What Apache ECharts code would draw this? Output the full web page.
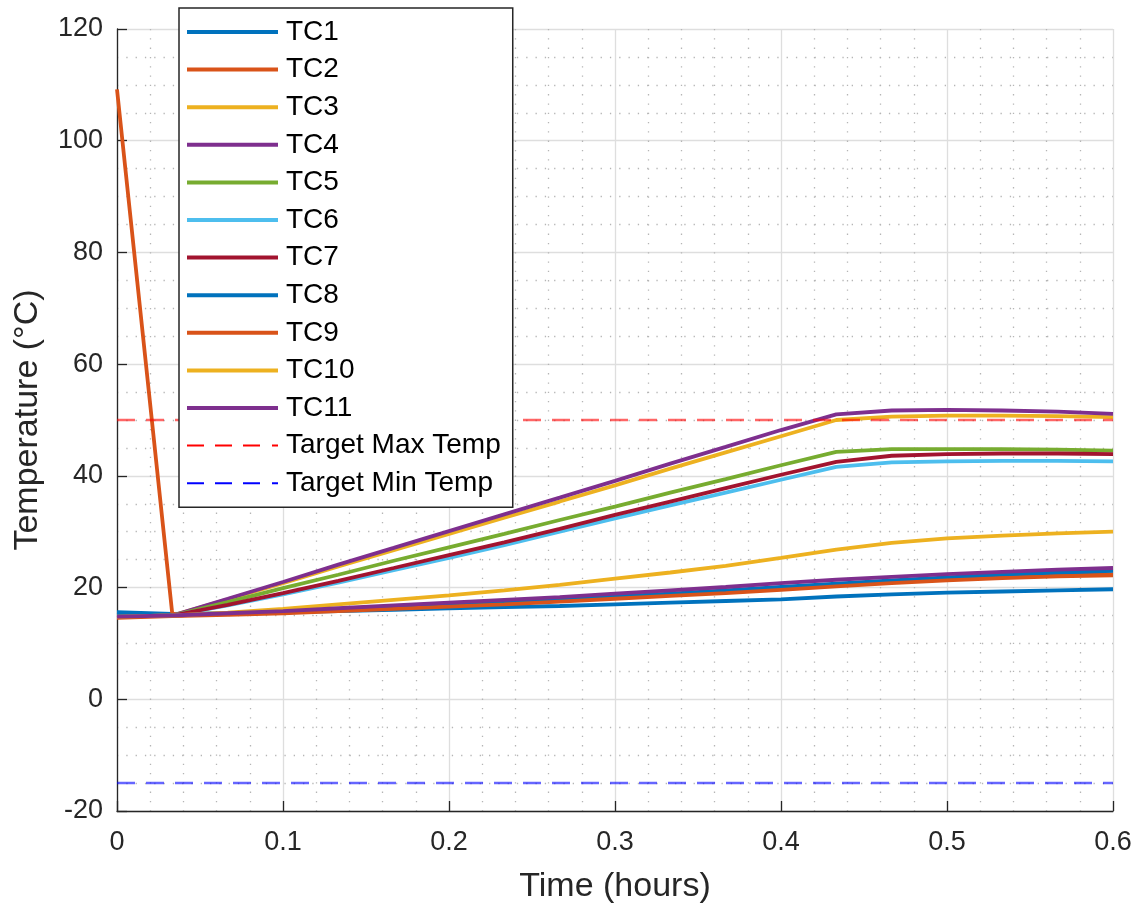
<!DOCTYPE html>
<html>
<head>
<meta charset="utf-8">
<script src="https://cdn.jsdelivr.net/npm/echarts@6/dist/echarts.min.js"></script>
<style>
  html, body { margin: 0; padding: 0; background: #fff; }
  #chart { width: 1145px; height: 909px; }
</style>
</head>
<body>
<div id="chart"></div>
<script>
// Sample times (hours), one reading every 2 minutes
const timeHours = [0, 0.0333, 0.0667, 0.1, 0.1333, 0.1667, 0.2, 0.2333, 0.2667, 0.3,
                   0.3333, 0.3667, 0.4, 0.4333, 0.4667, 0.5, 0.5333, 0.5667, 0.6];

// Thermocouple readings (°C)
const tc1  = [15.6, 15.3, 15.4, 15.6, 15.8, 16.0, 16.3, 16.5, 16.7, 17.0, 17.3, 17.6, 17.9, 18.4, 18.8, 19.1, 19.3, 19.5, 19.7];
const tc2  = [109.2, 15.3, 15.3, 15.6, 16.0, 16.4, 16.9, 17.3, 17.8, 18.3, 18.8, 19.3, 19.9, 20.5, 21.0, 21.5, 21.9, 22.2, 22.4];
const tc3  = [14.8, 15.0, 17.9, 20.8, 23.8, 26.7, 29.6, 32.5, 35.4, 38.3, 41.3, 44.2, 47.1, 50.0, 50.6, 50.8, 50.8, 50.7, 50.5];
const tc4  = [14.8, 15.0, 18.0, 21.0, 24.1, 27.1, 30.1, 33.1, 36.1, 39.1, 42.2, 45.2, 48.2, 51.0, 51.7, 51.8, 51.7, 51.5, 51.1];
const tc5  = [14.8, 15.0, 17.4, 19.9, 22.3, 24.8, 27.2, 29.6, 32.1, 34.5, 37.0, 39.4, 41.9, 44.3, 44.8, 44.8, 44.8, 44.7, 44.5];
const tc6  = [14.8, 15.0, 16.8, 18.8, 20.9, 23.1, 25.3, 27.6, 30.0, 32.4, 34.7, 37.0, 39.3, 41.6, 42.4, 42.6, 42.7, 42.7, 42.6];
const tc7  = [14.8, 15.0, 16.9, 19.0, 21.2, 23.5, 25.8, 28.1, 30.5, 33.0, 35.4, 37.8, 40.2, 42.5, 43.6, 43.9, 44.0, 44.0, 43.9];
const tc8  = [15.0, 15.0, 15.3, 15.7, 16.1, 16.5, 17.0, 17.4, 17.9, 18.4, 18.9, 19.5, 20.1, 20.7, 21.3, 21.8, 22.3, 22.7, 23.0];
const tc9  = [14.6, 14.9, 15.1, 15.4, 15.8, 16.2, 16.6, 17.0, 17.5, 18.0, 18.5, 19.0, 19.6, 20.2, 20.8, 21.3, 21.7, 22.0, 22.2];
const tc10 = [14.8, 15.0, 15.5, 16.2, 17.0, 17.8, 18.6, 19.5, 20.5, 21.6, 22.7, 23.9, 25.3, 26.8, 28.0, 28.8, 29.3, 29.7, 30.0];
const tc11 = [14.8, 15.0, 15.4, 15.8, 16.3, 16.8, 17.3, 17.8, 18.3, 18.9, 19.5, 20.1, 20.8, 21.4, 21.9, 22.4, 22.8, 23.2, 23.5];

const seriesNames = ['TC1', 'TC2', 'TC3', 'TC4', 'TC5', 'TC6', 'TC7', 'TC8', 'TC9', 'TC10', 'TC11'];
const seriesValues = [tc1, tc2, tc3, tc4, tc5, tc6, tc7, tc8, tc9, tc10, tc11];

// Target limits (°C)
const targetMaxTemp = 50;
const targetMinTemp = -15;
const timeRange = [0, 0.6];

const palette = ['#0072BD', '#D95319', '#EDB120', '#7E2F8E', '#77AC30', '#4DBEEE', '#A2142F'];
const axisColor = '#262626';
const fontFamily = '"Liberation Sans", Arial, Helvetica, sans-serif';

// Dashed legend swatch: three dashes and a short tail
const dashIcon = 'path://M0 0h17v2H0z M28 0h17v2H28z M56 0h17v2H56z M85 0h6v2H85z';

const chart = echarts.init(document.getElementById('chart'), null, { renderer: 'canvas' });

const series = seriesNames.map((name, i) => ({
  name: name,
  type: 'line',
  data: timeHours.map((t, k) => [t, seriesValues[i][k]]),
  showSymbol: false,
  symbol: 'none',
  lineStyle: { width: 3.8, color: palette[i % palette.length] },
  itemStyle: { color: palette[i % palette.length] },
  emphasis: { disabled: true },
  z: 2 + i * 0.01
}));

series.push({
  name: 'Target Max Temp',
  type: 'line',
  data: timeRange.map(t => [t, targetMaxTemp]),
  showSymbol: false,
  symbol: 'none',
  lineStyle: { width: 2.4, color: 'rgba(255,0,0,0.6)', type: [18, 11] },
  itemStyle: { color: '#FF0000' },
  emphasis: { disabled: true },
  z: 3
});
series.push({
  name: 'Target Min Temp',
  type: 'line',
  data: timeRange.map(t => [t, targetMinTemp]),
  showSymbol: false,
  symbol: 'none',
  lineStyle: { width: 2.4, color: 'rgba(0,0,255,0.6)', type: [18, 11] },
  itemStyle: { color: '#0000FF' },
  emphasis: { disabled: true },
  z: 3
});

const legendData = seriesNames.map((n, i) => ({
  name: n,
  icon: 'rect',
  itemStyle: { color: palette[i % palette.length], borderWidth: 0 }
})).concat([
  { name: 'Target Max Temp', icon: dashIcon, itemStyle: { color: '#FF0000', borderWidth: 0 } },
  { name: 'Target Min Temp', icon: dashIcon, itemStyle: { color: '#0000FF', borderWidth: 0 } }
]);

const option = {
  animation: false,
  backgroundColor: '#ffffff',
  textStyle: { fontFamily: fontFamily },
  grid: { left: 117, top: 29, width: 996, height: 782, containLabel: false },
  legend: {
    orient: 'vertical',
    left: 179,
    top: 8,
    data: legendData,
    itemWidth: 91,
    itemHeight: 4,
    itemGap: 7.6,
    padding: [9, 12, 9, 8],
    backgroundColor: '#ffffff',
    borderColor: '#262626',
    borderWidth: 1.5,
    borderRadius: 0,
    itemStyle: { borderWidth: 0 },
    selectedMode: false,
    textStyle: {
      fontFamily: fontFamily,
      fontSize: 28,
      color: '#000000',
      lineHeight: 30,
      padding: [0, 0, 0, 3]
    },
    z: 10
  },
  xAxis: {
    type: 'value',
    min: 0,
    max: 0.6,
    interval: 0.1,
    name: 'Time (hours)',
    nameLocation: 'middle',
    nameGap: 59,
    nameTextStyle: { fontSize: 34, color: axisColor, fontFamily: fontFamily },
    axisLine: { show: true, onZero: false, lineStyle: { color: axisColor, width: 1.3 } },
    axisTick: { show: true, inside: true, length: 10, lineStyle: { color: axisColor, width: 1.3 } },
    axisLabel: { fontSize: 27, color: axisColor, margin: 18, fontFamily: fontFamily },
    splitLine: { show: true, lineStyle: { color: '#dedede', width: 1.3 } },
    minorTick: { show: false, splitNumber: 5 },
    minorSplitLine: { show: true, lineStyle: { color: '#b5b5b5', width: 1.3, type: [1.3, 8] } }
  },
  yAxis: {
    type: 'value',
    min: -20,
    max: 120,
    interval: 20,
    name: 'Temperature (°C)',
    nameLocation: 'middle',
    nameGap: 72,
    nameTextStyle: { fontSize: 34, color: axisColor, fontFamily: fontFamily },
    axisLine: { show: true, onZero: false, lineStyle: { color: axisColor, width: 1.3 } },
    axisTick: { show: true, inside: true, length: 10, lineStyle: { color: axisColor, width: 1.3 } },
    axisLabel: { fontSize: 27, color: axisColor, margin: 14, fontFamily: fontFamily },
    splitLine: { show: true, lineStyle: { color: '#dedede', width: 1.3 } },
    minorTick: { show: false, splitNumber: 4 },
    minorSplitLine: { show: true, lineStyle: { color: '#b5b5b5', width: 1.3, type: [1.3, 8] } }
  },
  series: series
};

chart.setOption(option);
</script>
</body>
</html>
